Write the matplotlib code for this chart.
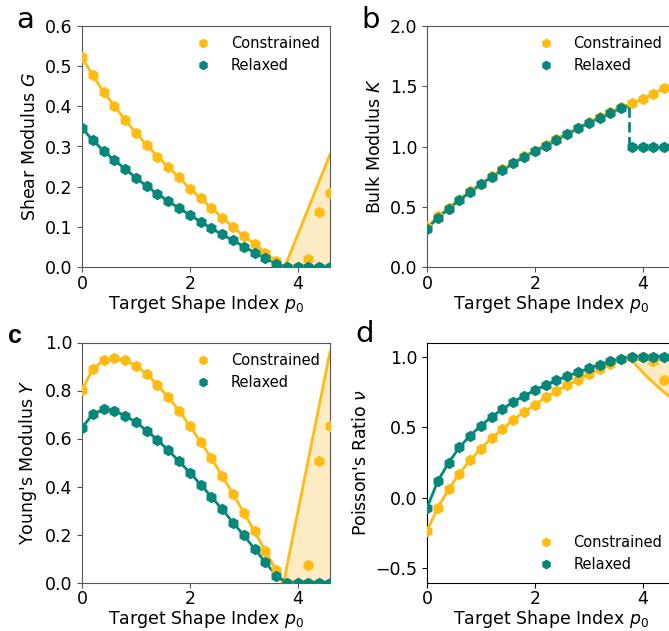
import matplotlib
matplotlib.use("Agg")
import matplotlib.pyplot as plt
import numpy as np

plt.rcParams.update({'font.size': 12.5})

ORANGE = "#FFBB12"
TEAL = "#07877A"
FILL = "#FDEBC4"

# target shape index (sample points)
p0 = [0.0, 0.2, 0.4, 0.6, 0.8, 1.0, 1.2, 1.4, 1.6, 1.8, 2.0, 2.2,
      2.4, 2.6, 2.8, 3.0, 3.2, 3.4, 3.6, 3.8, 4.0, 4.2, 4.4, 4.6]

# shear modulus G
G_con = [0.522, 0.477, 0.436, 0.401, 0.366, 0.334, 0.304, 0.275, 0.249, 0.223,
         0.195, 0.171, 0.147, 0.123, 0.100, 0.077, 0.057, 0.036, 0.015, 0.0,
         0.0, 0.020, 0.137, 0.183]
G_rel = [0.345, 0.316, 0.289, 0.266, 0.244, 0.222, 0.201, 0.182, 0.164, 0.146,
         0.130, 0.113, 0.096, 0.081, 0.066, 0.051, 0.036, 0.022, 0.008, 0.0,
         0.0, 0.0, 0.0, 0.0]
G_theory_x = [3.76, 4.6]
G_theory_y = [0.0, 0.28]

# bulk modulus K
K_con = [0.33, 0.42, 0.49, 0.56, 0.63, 0.69, 0.755, 0.81, 0.865, 0.92,
         0.965, 1.012, 1.062, 1.106, 1.153, 1.2, 1.242, 1.284, 1.325, 1.357,
         1.396, 1.438, 1.488, 1.53]
K_rel = [0.316, 0.407, 0.482, 0.554, 0.620, 0.687, 0.748, 0.803, 0.859, 0.914,
         0.961, 1.008, 1.058, 1.102, 1.150, 1.197, 1.238, 1.280, 1.321, 1.0,
         1.0, 1.0, 1.0, 1.0]
K_jump_x = 3.74
K_jump_top = 1.33

# Young's modulus Y
Y_con = [0.802, 0.889, 0.926, 0.935, 0.926, 0.903, 0.868, 0.823, 0.772, 0.716,
         0.652, 0.586, 0.517, 0.445, 0.369, 0.291, 0.213, 0.132, 0.051, 0.0,
         0.0, 0.074, 0.505, 0.652]
Y_rel = [0.645, 0.701, 0.722, 0.716, 0.695, 0.668, 0.633, 0.594, 0.551, 0.505,
         0.458, 0.408, 0.357, 0.305, 0.250, 0.197, 0.140, 0.085, 0.029, 0.0,
         0.0, 0.0, 0.0, 0.0]
Y_theory_x = [3.74, 4.6]
Y_theory_y = [0.0, 0.96]

# Poisson's ratio nu
nu_con = [-0.235, -0.071, 0.059, 0.172, 0.266, 0.348, 0.424, 0.487, 0.553, 0.607,
          0.659, 0.711, 0.753, 0.800, 0.835, 0.875, 0.911, 0.946, 0.981, 1.0,
          1.0, 0.969, 0.831, 0.80]
nu_rel = [-0.071, 0.118, 0.247, 0.358, 0.440, 0.511, 0.574, 0.628, 0.680, 0.722,
          0.762, 0.800, 0.831, 0.864, 0.889, 0.918, 0.944, 0.967, 0.986, 1.0,
          1.0, 1.0, 1.0, 1.0]
nu_theory_x = [3.74, 3.9, 4.1, 4.3, 4.5, 4.6]
nu_theory_y = [1.0, 0.93, 0.85, 0.78, 0.715, 0.685]

fig = plt.figure(figsize=(6.69, 6.31), dpi=100)
w, h = 248 / 669, 241 / 631
ax_a = fig.add_axes([82 / 669, 1 - 267 / 631, w, h])
ax_b = fig.add_axes([427 / 669, 1 - 267 / 631, w, h])
ax_c = fig.add_axes([82 / 669, 1 - 582.5 / 631, w, 240 / 631])
ax_d = fig.add_axes([427 / 669, 1 - 582.5 / 631, w, 240 / 631])

ms = 8.3
p0 = np.array(p0)


def scatter_pair(ax, con, rel):
    ax.plot(p0, con, 'h', color=ORANGE, ms=ms, mew=0, label='Constrained', zorder=3)
    ax.plot(p0, rel, 'h', color=TEAL, ms=ms, mew=0, label='Relaxed', zorder=4)


def style(ax, spine_col):
    ax.set_xlim(0, 4.6)
    ax.set_xticks([0, 2, 4])
    ax.set_xlabel(r'Target Shape Index $p_0$', labelpad=0)
    ax.tick_params(axis='x', pad=2)
    for s in ax.spines.values():
        s.set_color(spine_col)
    ax.tick_params(color=spine_col)


# a
ax_a.fill_between(G_theory_x, 0, G_theory_y, color=FILL, lw=0, zorder=1)
ax_a.plot(list(p0[:19]) + [3.72], G_con[:19] + [0.0], color=ORANGE, lw=2, zorder=2)
ax_a.plot(G_theory_x, G_theory_y, color=ORANGE, lw=2, zorder=2)
ax_a.plot(p0, G_rel, color=TEAL, lw=2, zorder=2)
scatter_pair(ax_a, G_con, G_rel)
ax_a.set_ylim(0, 0.6)
ax_a.set_ylabel(r'Shear Modulus $G$')
style(ax_a, '#555555')

# b
ax_b.plot(p0, K_con, color=ORANGE, lw=2, zorder=2)
ax_b.plot(list(p0[:19]) + [K_jump_x], K_rel[:19] + [K_jump_top], color=TEAL, lw=2, zorder=2)
ax_b.plot([K_jump_x, K_jump_x], [K_jump_top, 1.0], color=TEAL, lw=2, ls='--', zorder=2)
ax_b.plot([K_jump_x] + list(p0[19:]), [1.0] + K_rel[19:], color=TEAL, lw=2, zorder=2)
scatter_pair(ax_b, K_con, K_rel)
ax_b.set_ylim(0, 2.0)
ax_b.set_yticks([0, 0.5, 1.0, 1.5, 2.0])
ax_b.set_ylabel(r'Bulk Modulus $K$')
style(ax_b, '#555555')

# c
ax_c.fill_between(Y_theory_x, 0, Y_theory_y, color=FILL, lw=0, zorder=1)
ax_c.plot(list(p0[:19]) + [3.72], Y_con[:19] + [0.0], color=ORANGE, lw=2, zorder=2)
ax_c.plot(Y_theory_x, Y_theory_y, color=ORANGE, lw=2, zorder=2)
ax_c.plot(p0, Y_rel, color=TEAL, lw=2, zorder=2)
scatter_pair(ax_c, Y_con, Y_rel)
ax_c.set_ylim(0, 1.0)
ax_c.set_ylabel("Young's Modulus $Y$")
style(ax_c, '#555555')

# d
ax_d.fill_between(nu_theory_x, nu_theory_y, 1.0, color=FILL, lw=0, zorder=1)
ax_d.plot(list(p0[:19]) + nu_theory_x, nu_con[:19] + nu_theory_y, color=ORANGE, lw=2, zorder=2)
ax_d.plot(p0, nu_rel, color=TEAL, lw=2, zorder=2)
scatter_pair(ax_d, nu_con, nu_rel)
ax_d.set_ylim(-0.6, 1.1)
ax_d.set_yticks([-0.5, 0.0, 0.5, 1.0])
ax_d.set_ylabel(r"Poisson's Ratio $\nu$")
style(ax_d, 'black')

leg_kw = dict(frameon=False, fontsize=10.5, handlelength=1.2, handletextpad=1.3,
              numpoints=1, borderaxespad=0.3, markerscale=0.85)
ax_a.legend(loc='upper right', **leg_kw)
ax_c.legend(loc='upper right', **leg_kw)
ax_b.legend(loc='upper right', bbox_to_anchor=(0.99, 1.0), **leg_kw)
ax_d.legend(loc='lower right', bbox_to_anchor=(0.99, 0.0), **leg_kw)

fig.text(25 / 669, 1 - 20 / 631, 'a', fontsize=21, ha='center', va='center')
fig.text(371 / 669, 1 - 20 / 631, 'b', fontsize=21, ha='center', va='center')
fig.text(15 / 669, 1 - 336 / 631, 'c', fontsize=18, ha='center', va='center',
         family='Liberation Sans', weight='bold')
fig.text(365 / 669, 1 - 334 / 631, 'd', fontsize=21, ha='center', va='center')

fig.savefig('out.png', dpi=100)
